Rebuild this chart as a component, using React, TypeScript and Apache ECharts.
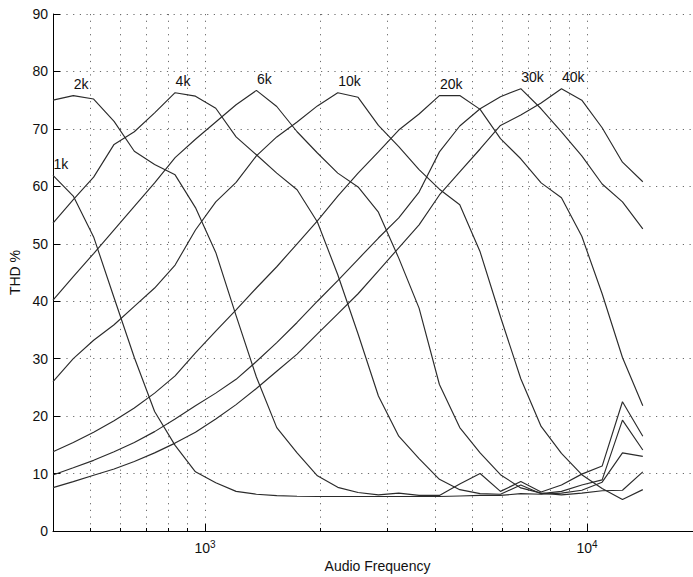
import { useEffect, useRef } from "react";
import * as echarts from "echarts";

// Test frequencies (Hz), log-spaced sweep points
const FREQ_HZ = [
  400, 452, 511, 578, 653, 738, 835, 944, 1067, 1206, 1363, 1541, 1742, 1969, 2226,
  2516, 2844, 3215, 3634, 4108, 4644, 5250, 5935, 6709, 7584, 8573, 9691, 10955, 12383, 13998,
];

// THD % for each tuned filter
const THD_1K = [
  61.9, 58.3, 51.2, 40.6, 30.2, 20.8, 14.9, 10.3, 8.4, 6.9, 6.4, 6.15, 6.05, 6.0, 6.0,
  6.0, 6.0, 6.0, 6.0, 6.0, 6.1, 6.2, 6.2, 6.5, 6.4, 6.6, 7.1, 8.5, 13.6, 13.0,
];
const THD_2K = [
  75.0, 75.8, 75.2, 71.3, 66.1, 63.8, 62.0, 56.3, 48.5, 37.5, 26.8, 18.0, 13.6, 9.6, 7.6,
  6.7, 6.3, 6.6, 6.2, 6.2, 8.2, 10.0, 6.9, 8.6, 6.8, 8.0, 9.9, 11.3, 22.5, 16.5,
];
const THD_4K = [
  53.6, 57.7, 61.6, 67.3, 69.5, 72.8, 76.3, 75.7, 73.6, 68.6, 65.5, 62.3, 59.4, 53.8, 44.6,
  34.3, 23.5, 16.5, 12.6, 9.0, 7.2, 6.5, 6.4, 8.0, 6.5, 6.9, 8.0, 8.9, 19.3, 14.1,
];
const THD_6K = [
  40.2, 44.3, 48.3, 52.4, 56.5, 60.6, 65.0, 68.2, 71.2, 74.2, 76.7, 73.9, 69.5, 65.8, 62.3,
  59.9, 55.5, 47.5, 38.8, 25.5, 18.0, 13.6, 9.8, 7.5, 6.6, 6.3, 6.6, 7.0, 7.1, 10.3,
];
const THD_10K = [
  26.0, 30.0, 33.2, 35.9, 39.1, 42.3, 46.3, 52.4, 57.3, 60.7, 65.3, 68.6, 71.2, 74.0, 76.3,
  75.5, 70.6, 66.9, 62.9, 59.5, 56.8, 48.6, 37.3, 26.5, 18.2, 13.5, 9.8, 7.4, 5.5, 7.2,
];
const THD_20K = [
  13.8, 15.4, 17.2, 19.2, 21.4, 24.0, 27.0, 31.0, 34.8, 38.5, 42.3, 46.0, 50.0, 54.0, 58.3,
  62.3, 66.0, 69.8, 72.6, 75.8, 75.8, 73.4, 68.3, 64.8, 60.6, 58.0, 51.3, 41.3, 30.2, 21.8,
];
const THD_30K = [
  9.75, 11.0, 12.3, 13.8, 15.4, 17.3, 19.5, 21.8, 24.0, 26.4, 29.5, 32.8, 36.3, 40.0, 43.6,
  47.3, 51.0, 54.5, 59.0, 66.0, 70.5, 73.5, 75.6, 77.0, 73.5, 69.5, 65.3, 60.4, 57.3, 52.6,
];
const THD_40K = [
  7.55, 8.6, 9.7, 10.8, 12.1, 13.6, 15.3, 17.2, 19.5, 22.0, 24.8, 27.8, 30.8, 34.3, 37.8,
  41.3, 45.3, 49.3, 53.3, 58.5, 62.5, 66.5, 70.6, 72.4, 74.5, 77.0, 75.0, 70.2, 64.2, 60.8,
];

const CURVE_NAMES = ["1k", "2k", "4k", "6k", "10k", "20k", "30k", "40k"];
const CURVE_VALUES = [THD_1K, THD_2K, THD_4K, THD_6K, THD_10K, THD_20K, THD_30K, THD_40K];
// index of the sweep point each curve's name is written above
const LABEL_AT = [0, 1, 6, 10, 14, 19, 23, 25];

// axis ticks
const X_MAJOR = [1000, 10000];
const X_GRID = [500, 600, 700, 800, 900, 1000, 2000, 3000, 4000, 5000, 6000, 7000, 8000, 9000, 10000];
const Y_TICKS_MAX = 90;

const FONT = "'Liberation Sans', Arial, Helvetica, sans-serif";
const INK = "#111";
const GRID_DOTS = { color: "#6a6a6a", width: 1, type: [1.2, 5.5] as number[] };

export default function App() {
  const ref = useRef<HTMLDivElement>(null);

  useEffect(() => {
    if (!ref.current) return;
    const chart = echarts.init(ref.current, undefined, { renderer: "svg" });

    const xBase = {
      type: "log" as const,
      logBase: 10,
      min: 400,
      max: 20000,
      gridIndex: 0,
      position: "bottom" as const,
      minorTick: { show: false },
      minorSplitLine: { show: false },
    };

    const series = CURVE_NAMES.map((name, ci) => {
      const vals = CURVE_VALUES[ci];
      const li = LABEL_AT[ci];
      return {
        name,
        type: "line" as const,
        xAxisIndex: 0,
        yAxisIndex: 0,
        data: FREQ_HZ.map((f, i) => [f, vals[i]]),
        showSymbol: false,
        symbol: "none",
        silent: true,
        lineStyle: { color: "#2b2b2b", width: 1.15 },
        markPoint: {
          silent: true,
          symbol: "circle",
          symbolSize: 1,
          itemStyle: { color: "transparent" },
          data: [{ coord: [FREQ_HZ[li], vals[li]], value: name }],
          label: {
            show: true,
            formatter: name,
            position: [1, -11],
            align: "left",
            verticalAlign: "middle",
            color: INK,
            fontSize: 14,
            fontFamily: FONT,
          },
        },
      };
    });

    chart.setOption({
      animation: false,
      backgroundColor: "#fff",
      textStyle: { fontFamily: FONT },
      grid: {
        left: 53,
        right: 18,
        top: 14,
        bottom: 46,
        containLabel: false,
        outerBoundsMode: "none",
      },
      xAxis: [
        {
          ...xBase,
          axisLine: { show: true, onZero: false, lineStyle: { color: "#000", width: 1 } },
          axisTick: {
            show: true,
            inside: true,
            length: 7,
            customValues: X_MAJOR,
            lineStyle: { color: "#000", width: 1 },
          },
          axisLabel: {
            show: true,
            customValues: X_MAJOR,
            margin: 8,
            formatter: (v: number) => `{b|10}{s|${Math.round(Math.log10(v))}}`,
            rich: {
              b: { fontSize: 14, fontFamily: FONT, color: INK, lineHeight: 18 },
              s: { fontSize: 10, fontFamily: FONT, color: INK, verticalAlign: "top", lineHeight: 18, padding: [0, 0, 6, 0] },
            },
          },
          splitLine: { show: false },
          name: "Audio Frequency",
          nameLocation: "middle",
          nameGap: 28,
          nameMoveOverlap: false,
          nameTextStyle: { fontSize: 14, color: INK, fontFamily: FONT },
        },
        {
          ...xBase,
          axisLine: { show: false },
          axisTick: {
            show: true,
            inside: true,
            length: 3,
            customValues: X_GRID,
            lineStyle: { color: "#000", width: 1 },
          },
          axisLabel: { show: false },
          splitLine: { show: true, lineStyle: GRID_DOTS },
        },
      ],
      yAxis: {
        type: "value",
        min: 0,
        max: Y_TICKS_MAX,
        interval: 10,
        axisLine: { show: true, onZero: false, lineStyle: { color: "#000", width: 1 } },
        axisTick: { show: true, inside: true, length: 7, lineStyle: { color: "#000", width: 1 } },
        axisLabel: { fontSize: 14, color: INK, fontFamily: FONT, margin: 5 },
        splitLine: { show: true, lineStyle: GRID_DOTS },
        name: "THD %",
        nameLocation: "middle",
        nameGap: 31,
        nameRotate: 90,
        nameMoveOverlap: false,
        nameTextStyle: { fontSize: 14, color: INK, fontFamily: FONT },
      },
      series,
    });

    return () => chart.dispose();
  }, []);

  return (
    <div
      style={{
        position: "fixed",
        left: 0,
        top: 0,
        width: 693,
        height: 577,
        overflow: "hidden",
        background: "#fff",
      }}
    >
      <div ref={ref} style={{ width: 720, height: 577 }} />
    </div>
  );
}
